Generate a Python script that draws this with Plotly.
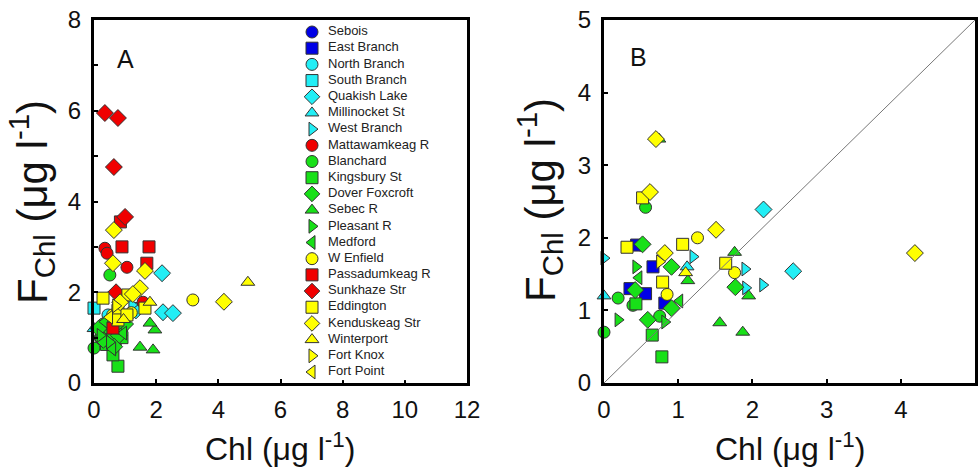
import plotly.graph_objects as go

# ---------------- data ----------------
stations = ["Sebois", "East Branch", "North Branch", "South Branch", "Quakish Lake",
            "Millinocket St", "West Branch", "Mattawamkeag R", "Blanchard", "Kingsbury St",
            "Dover Foxcroft", "Sebec R", "Pleasant R", "Medford", "W Enfield",
            "Passadumkeag R", "Sunkhaze Str", "Eddington", "Kenduskeag Str", "Winterport",
            "Fort Knox", "Fort Point"]
symbols = ["circle", "square", "circle", "square", "diamond", "triangle-up", "triangle-right",
           "circle", "circle", "square", "diamond", "triangle-up", "triangle-right", "triangle-left",
           "circle", "square", "diamond", "square", "diamond", "triangle-up", "triangle-right",
           "triangle-left"]
BLUE, CYAN, RED, GREEN, YELLOW = "#0000e6", "#22eef5", "#f00000", "#18e018", "#ffff00"
colors = [BLUE, BLUE, CYAN, CYAN, CYAN, CYAN, CYAN, RED, GREEN, GREEN, GREEN, GREEN, GREEN,
          GREEN, YELLOW, RED, RED, YELLOW, YELLOW, YELLOW, YELLOW, YELLOW]

# Panel A: Chl (x) vs F_Chl (y)
a_chl = {
    "Sebois": [0.55], "East Branch": [0.65],
    "North Branch": [0.45], "South Branch": [0.0],
    "Quakish Lake": [2.19, 2.22, 2.54, 1.35], "Millinocket St": [0.0, 0.45],
    "West Branch": [1.22, 0.9],
    "Mattawamkeag R": [0.35, 0.42, 1.06, 1.58],
    "Blanchard": [0.51, 0.0, 0.2, 0.45, 0.7, 0.9, 0.3],
    "Kingsbury St": [0.77, 0.61, 0.4, 0.9, 0.25],
    "Dover Foxcroft": [0.55, 0.3, 1.0, 0.8, 0.15, 0.65],
    "Sebec R": [1.48, 1.9, 1.96, 1.8, 0.6, 1.0],
    "Pleasant R": [0.2, 0.75, 0.5], "Medford": [0.35, 0.95, 0.6],
    "W Enfield": [3.18, 0.6, 1.2],
    "Passadumkeag R": [0.85, 0.9, 1.77, 1.7, 0.61],
    "Sunkhaze Str": [0.35, 0.77, 0.64, 1.0, 0.71],
    "Eddington": [0.29, 1.09, 1.64, 0.77, 0.77, 1.06],
    "Kenduskeag Str": [0.64, 0.61, 1.64, 1.48, 1.25, 0.84, 4.18],
    "Winterport": [4.95, 1.8, 0.95],
    "Fort Knox": [0.7], "Fort Point": [0.5],
}
a_fchl = {
    "Sebois": [1.2], "East Branch": [1.3],
    "North Branch": [1.5], "South Branch": [1.65],
    "Quakish Lake": [2.42, 1.56, 1.54, 1.6], "Millinocket St": [1.2, 1.1],
    "West Branch": [1.72, 1.45],
    "Mattawamkeag R": [2.97, 2.86, 2.55, 1.78],
    "Blanchard": [2.38, 0.77, 1.0, 1.1, 0.9, 1.2, 1.3],
    "Kingsbury St": [0.37, 0.62, 0.85, 1.0, 1.15],
    "Dover Foxcroft": [1.0, 0.95, 1.3, 1.05, 1.2, 0.8],
    "Sebec R": [0.79, 0.73, 1.17, 1.32, 1.4, 1.5],
    "Pleasant R": [1.05, 1.25, 0.9], "Medford": [1.35, 1.1, 0.75],
    "W Enfield": [1.83, 1.5, 1.55],
    "Passadumkeag R": [3.55, 3.0, 3.0, 2.64, 1.21],
    "Sunkhaze Str": [5.95, 5.84, 4.76, 3.66, 2.0],
    "Eddington": [1.87, 1.94, 1.65, 1.6, 1.39, 1.5],
    "Kenduskeag Str": [3.37, 2.64, 2.47, 2.09, 1.96, 1.78, 1.79],
    "Winterport": [2.22, 1.78, 1.4],
    "Fort Knox": [1.7], "Fort Point": [1.45],
}

# Panel B: Chl (x) vs F_Chl (y)
b_chl = {
    "Sebois": [0.5], "East Branch": [0.44, 0.66, 0.35, 0.56, 0.82],
    "North Branch": [], "South Branch": [],
    "Quakish Lake": [2.15, 2.55], "Millinocket St": [0.0, 1.12],
    "West Branch": [0.0, 1.2, 1.9, 2.14, 1.91],
    "Mattawamkeag R": [],
    "Blanchard": [0.56, 0.19, 0.39, 0.0, 0.75],
    "Kingsbury St": [0.43, 0.78, 0.65],
    "Dover Foxcroft": [0.52, 0.91, 0.42, 0.91, 0.59, 1.77],
    "Sebec R": [0.74, 1.13, 1.56, 1.87, 1.76, 1.95],
    "Pleasant R": [0.43, 0.19, 0.82], "Medford": [0.47, 1.02],
    "W Enfield": [1.26, 0.85, 1.76],
    "Passadumkeag R": [], "Sunkhaze Str": [],
    "Eddington": [0.52, 1.06, 0.31, 0.79, 1.64],
    "Kenduskeag Str": [0.62, 1.51, 0.82, 4.19, 0.7],
    "Winterport": [1.1], "Fort Knox": [0.75], "Fort Point": [],
}
b_fchl = {
    "Sebois": [1.9], "East Branch": [1.9, 1.6, 1.3, 1.23, 1.1],
    "North Branch": [], "South Branch": [],
    "Quakish Lake": [2.39, 1.54], "Millinocket St": [1.2, 1.6],
    "West Branch": [1.72, 1.74, 1.57, 1.35, 1.31],
    "Mattawamkeag R": [],
    "Blanchard": [2.42, 1.17, 1.07, 0.7, 0.92],
    "Kingsbury St": [1.09, 0.36, 0.66],
    "Dover Foxcroft": [1.91, 1.6, 1.28, 1.03, 0.87, 1.32],
    "Sebec R": [3.36, 1.41, 0.83, 0.7, 1.8, 1.2],
    "Pleasant R": [1.6, 0.87, 0.84], "Medford": [1.45, 1.13],
    "W Enfield": [2.0, 1.22, 1.52],
    "Passadumkeag R": [], "Sunkhaze Str": [],
    "Eddington": [2.55, 1.91, 1.87, 1.39, 1.65],
    "Kenduskeag Str": [2.63, 2.11, 1.79, 1.79, 3.36],
    "Winterport": [1.52], "Fort Knox": [1.67], "Fort Point": [],
}
one_to_one = [0, 5]

a_xticks = [0, 2, 4, 6, 8, 10, 12]
a_yticks = [0, 2, 4, 6, 8]
b_ticks = [0, 1, 2, 3, 4, 5]

# ---------------- figure ----------------
W, H = 980, 470
FONT = "Arial, Liberation Sans, Helvetica, sans-serif"
fig = go.Figure()

MS = 12
for name, sym, col in zip(stations, symbols, colors):
    mk = dict(symbol=sym, color=col, size=MS if sym != "diamond" else MS + 1,
              line=dict(color="#333333", width=1))
    fig.add_trace(go.Scatter(x=a_chl[name], y=a_fchl[name], mode="markers", marker=mk,
                             name=name, showlegend=False, cliponaxis=False,
                             xaxis="x", yaxis="y"))
    fig.add_trace(go.Scatter(x=b_chl[name], y=b_fchl[name], mode="markers", marker=mk,
                             name=name, showlegend=False, cliponaxis=False,
                             xaxis="x2", yaxis="y2"))

fig.add_trace(go.Scatter(x=one_to_one, y=one_to_one, mode="lines",
                         line=dict(color="#777777", width=1), showlegend=False,
                         xaxis="x2", yaxis="y2"))

# hand-built legend (inside panel A): marker column + label column
idx = list(range(len(stations)))
fig.add_trace(go.Scatter(
    x=[0] * len(stations), y=idx, mode="markers",
    marker=dict(symbol=symbols, color=colors, size=MS, line=dict(color="#333333", width=1)),
    showlegend=False, cliponaxis=False, xaxis="x3", yaxis="y3", hoverinfo="skip"))
fig.add_trace(go.Scatter(
    x=[1] * len(stations), y=idx, mode="text", text=stations,
    textposition="middle right", textfont=dict(family=FONT, size=13, color="#222222"),
    showlegend=False, cliponaxis=False, xaxis="x3", yaxis="y3", hoverinfo="skip"))

def px_x(p):
    return p / W

def px_y(p):
    return 1 - p / H

axis_common = dict(showline=True, linewidth=3, linecolor="black", mirror=True,
                   ticks="inside", ticklen=4, tickwidth=2, tickcolor="black",
                   showgrid=False, zeroline=False, automargin=False,
                   tickfont=dict(family=FONT, size=24, color="#111111"))

fig.update_layout(
    width=W, height=H, margin=dict(l=0, r=0, t=0, b=0, pad=0, autoexpand=False),
    paper_bgcolor="white", plot_bgcolor="white", showlegend=False,
    xaxis=dict(domain=[px_x(94), px_x(467)], range=[0, 12], tickvals=a_xticks,
               anchor="y", ticklabelstandoff=3, **axis_common),
    yaxis=dict(domain=[px_y(383), px_y(20)], range=[0, 8], tickvals=a_yticks,
               minor=dict(dtick=1, ticks="inside", ticklen=4, tickwidth=2, tickcolor="black",
                          showgrid=False),
               anchor="x", ticklabelstandoff=5, **axis_common),
    xaxis2=dict(domain=[px_x(604), px_x(975)], range=[0, 5], tickvals=b_ticks,
                anchor="y2", ticklabelstandoff=3, **axis_common),
    yaxis2=dict(domain=[px_y(383), px_y(20)], range=[0, 5], tickvals=b_ticks,
                anchor="x2", ticklabelstandoff=5, **axis_common),
    xaxis3=dict(domain=[px_x(296), px_x(456)], range=[-1, 9], visible=False,
                anchor="y3", fixedrange=True, automargin=False),
    yaxis3=dict(domain=[px_y(380.1), px_y(23.9)], range=[len(stations) - 0.5, -0.5],
                visible=False, anchor="x3", fixedrange=True, automargin=False),
)

ytitle = "F<sub>Chl</sub> (μg l<sup>-1</sup>)"
xtitle = "Chl (μg l<sup>-1</sup>)"
ann = [
    dict(x=px_x(280), y=px_y(447), text=xtitle, font=dict(size=32)),
    dict(x=px_x(790), y=px_y(447), text=xtitle, font=dict(size=32)),
    dict(x=px_x(31), y=px_y(202), text=ytitle, textangle=-90, font=dict(size=42)),
    dict(x=px_x(540), y=px_y(200), text=ytitle, textangle=-90, font=dict(size=42)),
    dict(x=px_x(126), y=px_y(59), text="A", font=dict(size=25)),
    dict(x=px_x(638), y=px_y(57), text="B", font=dict(size=25)),
]
for a in ann:
    a.update(xref="paper", yref="paper", showarrow=False, xanchor="center", yanchor="middle")
    a["font"].update(family=FONT, color="#111111")
    fig.add_annotation(**a)

fig.write_html("out.html", config={"displayModeBar": False},
               post_script="document.body.style.margin='0';document.body.style.overflow='hidden';")
